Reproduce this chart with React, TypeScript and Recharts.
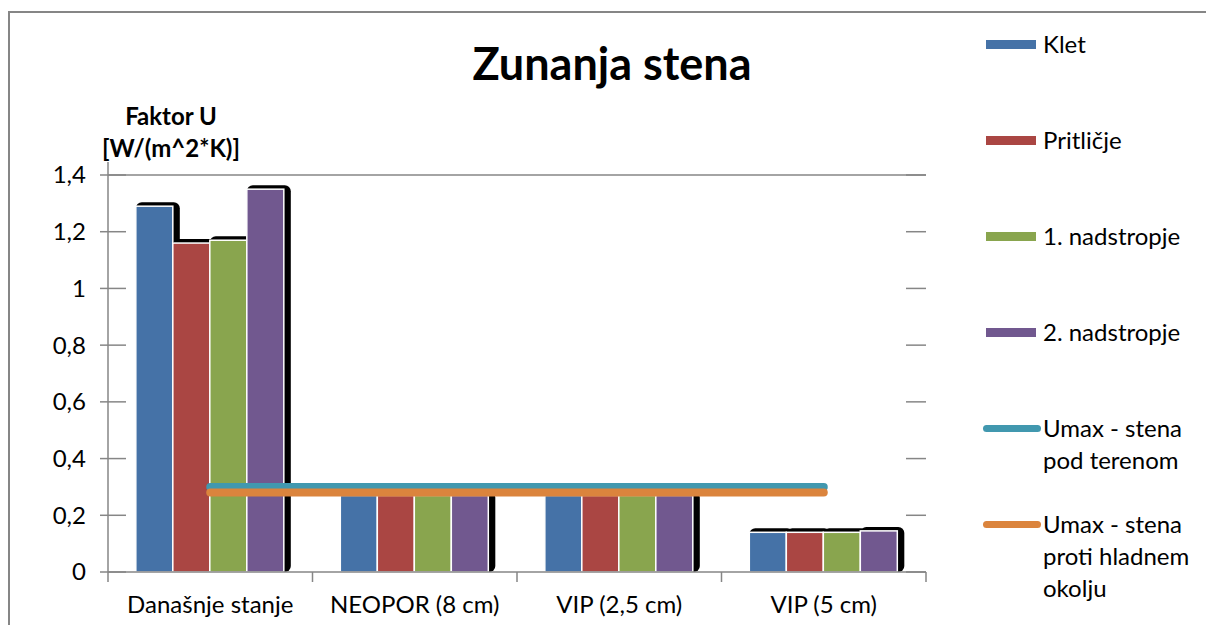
import React from "react";
import {
  ComposedChart,
  Bar,
  Line,
  XAxis,
  YAxis,
  ReferenceLine,
  Legend,
} from "recharts";

const categories = ["Današnje stanje", "NEOPOR (8 cm)", "VIP (2,5 cm)", "VIP (5 cm)"];
const klet = [1.29, 0.27, 0.27, 0.14];
const pritlicje = [1.16, 0.27, 0.27, 0.14];
const nadstropje1 = [1.17, 0.27, 0.27, 0.14];
const nadstropje2 = [1.35, 0.27, 0.27, 0.145];
const umaxTeren = [0.3, 0.3, 0.3, 0.3];
const umaxHladno = [0.28, 0.28, 0.28, 0.28];
const yTicks = [0, 0.2, 0.4, 0.6, 0.8, 1, 1.2, 1.4];

const SERIES = [
  { key: "klet", name: "Klet", color: "#4572A7", type: "bar" },
  { key: "pritlicje", name: "Pritličje", color: "#AA4643", type: "bar" },
  { key: "n1", name: "1. nadstropje", color: "#89A54E", type: "bar" },
  { key: "n2", name: "2. nadstropje", color: "#71588F", type: "bar" },
  { key: "umax1", name: "Umax - stena\npod terenom", color: "#4198AF", type: "line" },
  { key: "umax2", name: "Umax - stena\nproti hladnem\nokolju", color: "#DB843D", type: "line" },
];

const data = categories.map((c, i) => ({
  name: c,
  klet: klet[i],
  pritlicje: pritlicje[i],
  n1: nadstropje1[i],
  n2: nadstropje2[i],
  umax1: umaxTeren[i],
  umax2: umaxHladno[i],
}));

const FONT = "Lato, 'Open Sans', sans-serif";
const W = 1206;
const H = 625;
const PLOT_LEFT = 108;
const PLOT_RIGHT = 926;
const PLOT_TOP = 175;
const PLOT_BOTTOM = 572;
const AXIS_GRAY = "#868686";
const BAND = (PLOT_RIGHT - PLOT_LEFT) / categories.length;
const TICK_FONT = 24;

// bar with the black excel-style shadow behind it
const ShadowBar = (props: any) => {
  const { x, y, width, height, fill } = props;
  if (!height || height <= 0) return null;
  return (
    <g>
      <rect x={x} y={y - 4} width={width + 7} height={height + 4} rx={6} fill="#000" />
      <rect x={x} y={y} width={width} height={height} fill={fill} stroke="#fff" strokeWidth={1.5} />
    </g>
  );
};

const YTick = (props: any) => {
  const { y, payload } = props;
  const v = payload.value as number;
  const label = String(v).replace(".", ",");
  return (
    <g>
      <line x1={PLOT_LEFT - 8} x2={PLOT_LEFT + 18} y1={y} y2={y} stroke={AXIS_GRAY} strokeWidth={1.5} />
      <line x1={PLOT_RIGHT - 20} x2={PLOT_RIGHT} y1={y} y2={y} stroke={AXIS_GRAY} strokeWidth={1.5} />
      {v === 1.4 && (
        <line x1={PLOT_LEFT} x2={PLOT_LEFT} y1={y - 13} y2={y} stroke={AXIS_GRAY} strokeWidth={1.5} />
      )}
      <text x={PLOT_LEFT - 22} y={y} dy="0.35em" textAnchor="end" fontSize={TICK_FONT} fill="#000" fontFamily={FONT}>
        {label}
      </text>
    </g>
  );
};

const XTick = (props: any) => {
  const { x, payload, index } = props;
  return (
    <g>
      <line x1={x - BAND / 2} x2={x - BAND / 2} y1={PLOT_BOTTOM} y2={PLOT_BOTTOM + 10} stroke={AXIS_GRAY} strokeWidth={1.5} />
      {index === categories.length - 1 && (
        <line x1={x + BAND / 2} x2={x + BAND / 2} y1={PLOT_BOTTOM} y2={PLOT_BOTTOM + 10} stroke={AXIS_GRAY} strokeWidth={1.5} />
      )}
      <text x={x} y={PLOT_BOTTOM + 33} dy="0.35em" textAnchor="middle" fontSize={TICK_FONT} fill="#000" fontFamily={FONT}>
        {payload.value}
      </text>
    </g>
  );
};

const LegendContent = () => (
  <div style={{ fontFamily: FONT, fontSize: 24, color: "#000" }}>
    {SERIES.map((s) => (
      <div key={s.key} style={{ height: 96, display: "flex", alignItems: "flex-start" }}>
        <div style={{ width: 58, height: 32, display: "flex", alignItems: "center", marginRight: 2 }}>
          {s.type === "bar" ? (
            <div style={{ marginLeft: 3, width: 50, height: 9, background: s.color }} />
          ) : (
            <div style={{ width: 58, height: 7, borderRadius: 4, background: s.color }} />
          )}
        </div>
        <div style={{ lineHeight: "32px", whiteSpace: "pre" }}>{s.name}</div>
      </div>
    ))}
  </div>
);

export default function App() {
  return (
    <div style={{ position: "absolute", left: 0, top: 0, width: W, height: H, background: "#fff", overflow: "hidden" }}>
      <div
        style={{
          position: "absolute",
          left: 8,
          top: 11,
          width: W,
          height: H,
          borderLeft: `2px solid ${AXIS_GRAY}`,
          borderTop: `2px solid ${AXIS_GRAY}`,
        }}
      />
      <div
        style={{
          position: "absolute",
          left: 362,
          width: 500,
          top: 36,
          textAlign: "center",
          fontFamily: FONT,
          fontWeight: 700,
          fontSize: 45,
          lineHeight: "54px",
          color: "#000",
        }}
      >
        Zunanja stena
      </div>
      <div
        style={{
          position: "absolute",
          left: 71,
          width: 200,
          top: 100,
          textAlign: "center",
          fontFamily: FONT,
          fontWeight: 700,
          fontSize: 24,
          lineHeight: "32px",
          color: "#000",
        }}
      >
        Faktor U
        <br />
        [W/(m^2*K)]
      </div>
      <div style={{ position: "absolute", left: 0, top: 0 }}>
        <ComposedChart
          width={W}
          height={H}
          data={data}
          margin={{ top: PLOT_TOP, right: W - PLOT_RIGHT, bottom: H - PLOT_BOTTOM - 40, left: PLOT_LEFT - 60 }}
          barCategoryGap="13.6%"
          barGap={0}
        >
          <XAxis
            dataKey="name"
            height={40}
            stroke={AXIS_GRAY}
            strokeWidth={1.5}
            tickLine={false}
            tick={<XTick />}
            interval={0}
          />
          <YAxis
            width={60}
            domain={[0, 1.4]}
            ticks={yTicks}
            stroke={AXIS_GRAY}
            strokeWidth={1.5}
            tickLine={false}
            tick={<YTick />}
            interval={0}
          />
          <ReferenceLine y={1.4} stroke={AXIS_GRAY} strokeWidth={1.5} />
          {SERIES.filter((s) => s.type === "bar").map((s) => (
            <Bar key={s.key} dataKey={s.key} name={s.name} fill={s.color} shape={<ShadowBar />} isAnimationActive={false} />
          ))}
          {SERIES.filter((s) => s.type === "line").map((s) => (
            <Line
              key={s.key}
              dataKey={s.key}
              name={s.name}
              stroke={s.color}
              strokeWidth={8}
              strokeLinecap="round"
              dot={false}
              activeDot={false}
              isAnimationActive={false}
            />
          ))}
          <Legend
            layout="vertical"
            align="center"
            verticalAlign="middle"
            content={<LegendContent />}
            wrapperStyle={{ left: 983, top: 28, width: 223, height: 600 }}
          />
        </ComposedChart>
      </div>
    </div>
  );
}
